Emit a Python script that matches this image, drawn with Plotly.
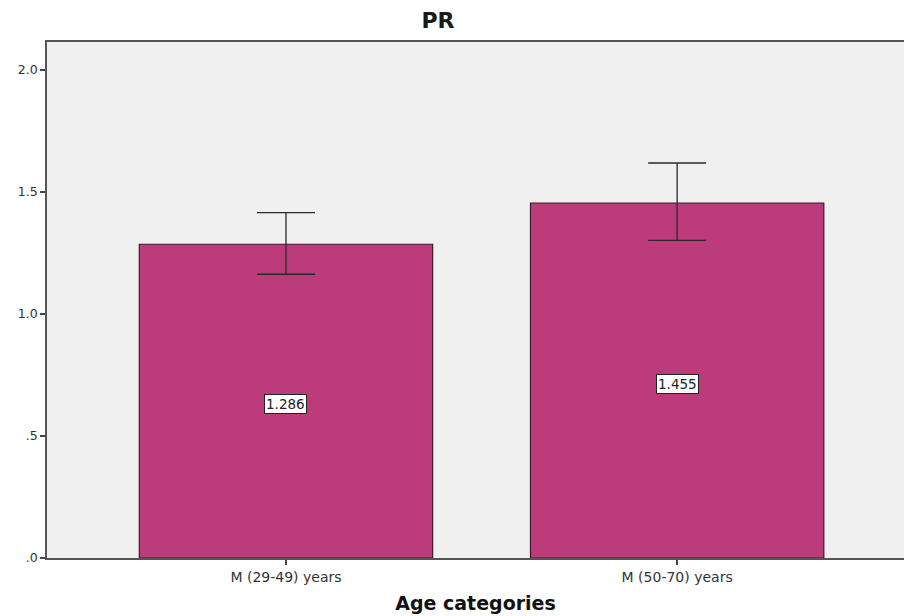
import plotly.graph_objects as go

# Data
categories = ["M (29-49) years", "M (50-70) years"]
means = [1.286, 1.455]
ci_upper = [1.416, 1.619]
ci_lower = [1.163, 1.302]
y_tick_vals = [0.0, 0.5, 1.0, 1.5, 2.0]
y_tick_text = [".0", ".5", "1.0", "1.5", "2.0"]

err_plus = [u - m for u, m in zip(ci_upper, means)]
err_minus = [m - l for m, l in zip(means, ci_lower)]

W, H = 904, 616
ML, MR, MT, MB = 47, 0, 42, 58
FONT = "DejaVu Sans, Verdana, sans-serif"

fig = go.Figure()
fig.add_trace(go.Bar(
    x=[0, 1],
    y=means,
    width=0.75,
    marker=dict(color="#BC3B7A", line=dict(color="#3a1a2c", width=1.2)),
    error_y=dict(type="data", symmetric=False, array=err_plus, arrayminus=err_minus,
                 color="#2a2a2a", thickness=1.3, width=29),
    hoverinfo="skip",
))

# Value labels at mid-height of each bar
for i, m in enumerate(means):
    fig.add_annotation(
        x=i, y=m / 2, xref="x", yref="y", text=f"{m:.3f}", showarrow=False,
        font=dict(family=FONT, size=13.5, color="#222"),
        bgcolor="white", bordercolor="#222", borderwidth=1, borderpad=1,
        yshift=-3,
    )

fig.update_layout(
    width=W, height=H,
    margin=dict(l=ML, r=MR, t=MT, b=MB, pad=0),
    paper_bgcolor="white",
    plot_bgcolor="#F0F0F0",
    showlegend=False,
    font=dict(family=FONT, size=12, color="#333"),
    title=dict(
        text="<b>PR</b>", xref="container", yref="container",
        x=438 / W, y=1 - 20 / H, xanchor="center", yanchor="middle",
        font=dict(family=FONT, size=22, color="#1a1a1a"),
    ),
    xaxis=dict(
        range=[-0.611, 1.58],
        tickvals=[0, 1], ticktext=categories,
        ticks="outside", ticklen=5, tickcolor="#444", tickwidth=1.5,
        showline=True, linecolor="#555", linewidth=1.5, mirror=True,
        showgrid=False, zeroline=False,
        tickfont=dict(size=14, color="#333"),
        title=dict(text="<b>Age categories</b>", font=dict(size=19, color="#111"), standoff=13),
    ),
    yaxis=dict(
        range=[0, 2.115],
        tickvals=y_tick_vals, ticktext=y_tick_text,
        ticks="outside", ticklen=5, tickcolor="#444", tickwidth=1.5,
        showline=True, linecolor="#555", linewidth=1.5,
        showgrid=False, zeroline=False,
        tickfont=dict(size=12.5, color="#333"),
    ),
)

fig.write_html("out.html")
